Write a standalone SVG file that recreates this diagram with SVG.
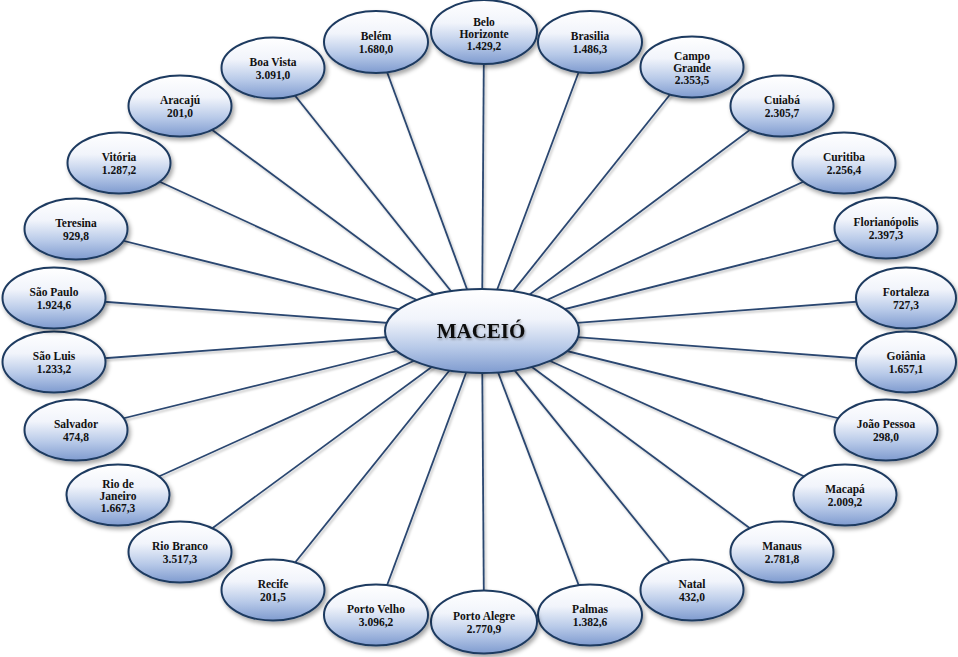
<svg xmlns="http://www.w3.org/2000/svg" width="958" height="657" viewBox="0 0 958 657">
  <defs>
    <linearGradient id="bubble" x1="0" y1="0" x2="0" y2="1">
      <stop offset="0" stop-color="#ffffff"/>
      <stop offset="0.36" stop-color="#f1f4fb"/>
      <stop offset="0.7" stop-color="#b7c9e8"/>
      <stop offset="1" stop-color="#7f9bcf"/>
    </linearGradient>
    <filter id="shadow" x="-20%" y="-20%" width="150%" height="160%">
      <feDropShadow dx="2" dy="3" stdDeviation="2.2" flood-color="#000" flood-opacity="0.35"/>
    </filter>
    <filter id="lineShadow" x="-10%" y="-10%" width="120%" height="120%">
      <feDropShadow dx="1.5" dy="2" stdDeviation="1.2" flood-color="#000" flood-opacity="0.25"/>
    </filter>
    <filter id="textGlow" x="-20%" y="-40%" width="140%" height="180%">
      <feDropShadow dx="1" dy="1.5" stdDeviation="1.2" flood-color="#000" flood-opacity="0.35"/>
    </filter>
  </defs>
  <style>
    .node ellipse { fill: url(#bubble); stroke: #1f3a60; stroke-width: 2; filter: url(#shadow); }
    .node text { font-family: "Liberation Serif", "Times New Roman", serif; font-weight: bold; font-size: 11.5px; fill: #111; text-anchor: middle; }
    .links line { stroke: #2a4670; stroke-width: 1.8; }
    .hub text { font-family: "Liberation Serif", "Times New Roman", serif; font-weight: bold; font-size: 21px; fill: #111; text-anchor: middle; }
  </style>

  <rect width="958" height="657" fill="#ffffff"/>

  <!-- spokes from the hub to every city -->
  <g class="links" filter="url(#lineShadow)">
    <line x1="482" y1="330" x2="376" y2="42"/>
    <line x1="482" y1="330" x2="484" y2="32"/>
    <line x1="482" y1="330" x2="590" y2="42"/>
    <line x1="482" y1="330" x2="692" y2="67"/>
    <line x1="482" y1="330" x2="782" y2="106"/>
    <line x1="482" y1="330" x2="844" y2="163"/>
    <line x1="482" y1="330" x2="886" y2="228"/>
    <line x1="482" y1="330" x2="906" y2="298"/>
    <line x1="482" y1="330" x2="906" y2="362"/>
    <line x1="482" y1="330" x2="886" y2="430"/>
    <line x1="482" y1="330" x2="845" y2="495"/>
    <line x1="482" y1="330" x2="782" y2="552"/>
    <line x1="482" y1="330" x2="692" y2="590"/>
    <line x1="482" y1="330" x2="590" y2="615"/>
    <line x1="482" y1="330" x2="484" y2="622"/>
    <line x1="482" y1="330" x2="376" y2="615"/>
    <line x1="482" y1="330" x2="273" y2="590"/>
    <line x1="482" y1="330" x2="180" y2="552"/>
    <line x1="482" y1="330" x2="118" y2="495"/>
    <line x1="482" y1="330" x2="76" y2="430"/>
    <line x1="482" y1="330" x2="54" y2="362"/>
    <line x1="482" y1="330" x2="54" y2="298"/>
    <line x1="482" y1="330" x2="76" y2="229"/>
    <line x1="482" y1="330" x2="119" y2="163"/>
    <line x1="482" y1="330" x2="180" y2="106"/>
    <line x1="482" y1="330" x2="273" y2="68"/>
  </g>

  <!-- hub -->
  <g id="maceio" class="node hub">
    <ellipse cx="482" cy="331" rx="97" ry="42"/>
    <text x="481" y="338" filter="url(#textGlow)">MACEIÓ</text>
  </g>

  <!-- cities -->
  <g id="belem" class="node"><ellipse cx="376" cy="42" rx="52" ry="31"/><text x="376" y="40">Belém</text><text x="376" y="53">1.680,0</text></g>
  <g id="belo-horizonte" class="node"><ellipse cx="484" cy="32" rx="53" ry="32"/><text x="484" y="26">Belo</text><text x="484" y="38">Horizonte</text><text x="484" y="50">1.429,2</text></g>
  <g id="brasilia" class="node"><ellipse cx="590" cy="42" rx="52" ry="31"/><text x="590" y="40">Brasilia</text><text x="590" y="53">1.486,3</text></g>
  <g id="campo-grande" class="node"><ellipse cx="692" cy="67" rx="51.5" ry="30.5"/><text x="692" y="60">Campo</text><text x="692" y="72">Grande</text><text x="692" y="84">2.353,5</text></g>
  <g id="cuiaba" class="node"><ellipse cx="782" cy="106" rx="51.5" ry="30.5"/><text x="782" y="104">Cuiabá</text><text x="782" y="117">2.305,7</text></g>
  <g id="curitiba" class="node"><ellipse cx="844" cy="163" rx="51.5" ry="30.5"/><text x="844" y="161">Curitiba</text><text x="844" y="174">2.256,4</text></g>
  <g id="florianopolis" class="node"><ellipse cx="886" cy="228" rx="51.5" ry="30.5"/><text x="886" y="226">Florianópolis</text><text x="886" y="239">2.397,3</text></g>
  <g id="fortaleza" class="node"><ellipse cx="906" cy="298" rx="50" ry="30.5"/><text x="906" y="296">Fortaleza</text><text x="906" y="309">727,3</text></g>
  <g id="goiania" class="node"><ellipse cx="906" cy="362" rx="50" ry="30.5"/><text x="906" y="360">Goiânia</text><text x="906" y="373">1.657,1</text></g>
  <g id="joao-pessoa" class="node"><ellipse cx="886" cy="430" rx="51.5" ry="30.5"/><text x="886" y="428">João Pessoa</text><text x="886" y="441">298,0</text></g>
  <g id="macapa" class="node"><ellipse cx="845" cy="495" rx="51.5" ry="30.5"/><text x="845" y="493">Macapá</text><text x="845" y="506">2.009,2</text></g>
  <g id="manaus" class="node"><ellipse cx="782" cy="552" rx="51.5" ry="30.5"/><text x="782" y="550">Manaus</text><text x="782" y="563">2.781,8</text></g>
  <g id="natal" class="node"><ellipse cx="692" cy="590" rx="51.5" ry="30.5"/><text x="692" y="588">Natal</text><text x="692" y="601">432,0</text></g>
  <g id="palmas" class="node"><ellipse cx="590" cy="615" rx="52" ry="30.5"/><text x="590" y="613">Palmas</text><text x="590" y="626">1.382,6</text></g>
  <g id="porto-alegre" class="node"><ellipse cx="484" cy="622" rx="53" ry="31.5"/><text x="484" y="620">Porto Alegre</text><text x="484" y="633">2.770,9</text></g>
  <g id="porto-velho" class="node"><ellipse cx="376" cy="615" rx="52" ry="30.5"/><text x="376" y="613">Porto Velho</text><text x="376" y="626">3.096,2</text></g>
  <g id="recife" class="node"><ellipse cx="273" cy="590" rx="51.5" ry="30.5"/><text x="273" y="588">Recife</text><text x="273" y="601">201,5</text></g>
  <g id="rio-branco" class="node"><ellipse cx="180" cy="552" rx="51.5" ry="30.5"/><text x="180" y="550">Rio Branco</text><text x="180" y="563">3.517,3</text></g>
  <g id="rio-de-janeiro" class="node"><ellipse cx="118" cy="495" rx="51.5" ry="30.5"/><text x="118" y="488">Rio de</text><text x="118" y="500">Janeiro</text><text x="118" y="512">1.667,3</text></g>
  <g id="salvador" class="node"><ellipse cx="76" cy="430" rx="51.5" ry="30.5"/><text x="76" y="428">Salvador</text><text x="76" y="441">474,8</text></g>
  <g id="sao-luis" class="node"><ellipse cx="54" cy="362" rx="51.5" ry="30.5"/><text x="54" y="360">São Luis</text><text x="54" y="373">1.233,2</text></g>
  <g id="sao-paulo" class="node"><ellipse cx="54" cy="298" rx="51.5" ry="30.5"/><text x="54" y="296">São Paulo</text><text x="54" y="309">1.924,6</text></g>
  <g id="teresina" class="node"><ellipse cx="76" cy="229" rx="51.5" ry="30.5"/><text x="76" y="227">Teresina</text><text x="76" y="240">929,8</text></g>
  <g id="vitoria" class="node"><ellipse cx="119" cy="163" rx="51.5" ry="30.5"/><text x="119" y="161">Vitória</text><text x="119" y="174">1.287,2</text></g>
  <g id="aracaju" class="node"><ellipse cx="180" cy="106" rx="51.5" ry="30.5"/><text x="180" y="104">Aracajú</text><text x="180" y="117">201,0</text></g>
  <g id="boa-vista" class="node"><ellipse cx="273" cy="68" rx="51.5" ry="30.5"/><text x="273" y="66">Boa Vista</text><text x="273" y="79">3.091,0</text></g>
</svg>
